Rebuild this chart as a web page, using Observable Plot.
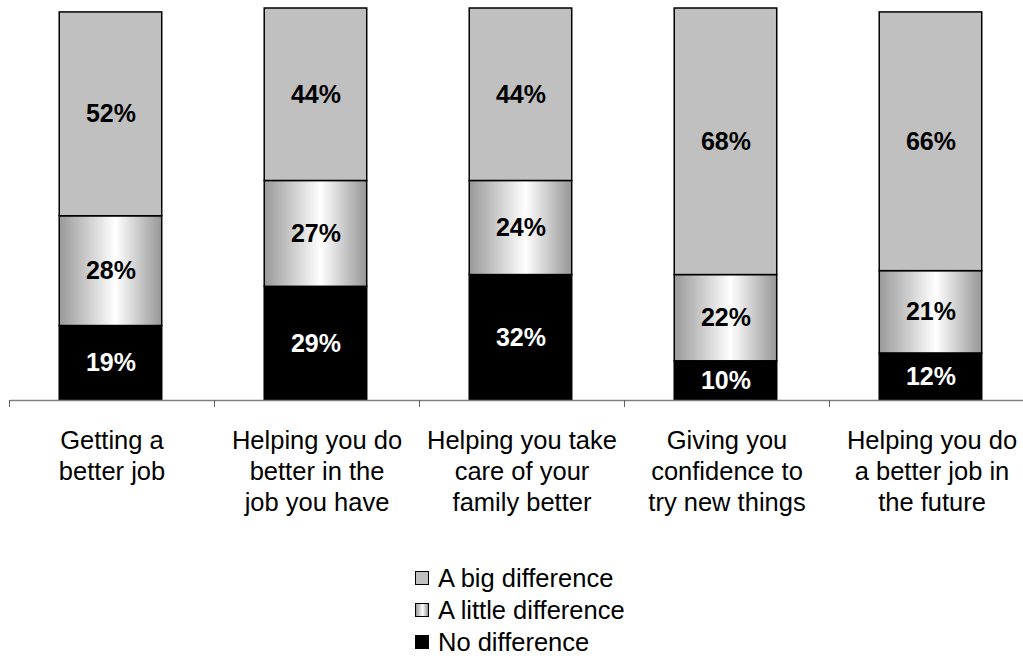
<!DOCTYPE html>
<html>
<head>
<meta charset="utf-8">
<script src="https://cdn.jsdelivr.net/npm/d3@7"></script>
<script src="https://cdn.jsdelivr.net/npm/@observablehq/plot@0.6"></script>
<style>
  body { margin: 0; background: #fff; font-family: "Liberation Sans", Arial, sans-serif; }
  #legend { margin-left: 415px; margin-top: 22px; font-size: 25.5px; color: #000; }
  .row { height: 32px; line-height: 32px; display: flex; align-items: center; }
  .sw { width: 12px; height: 12px; border: 1px solid #000; margin-right: 9px; box-sizing: content-box; }
</style>
</head>
<body>
<div id="chart"></div>
<div id="legend"></div>
<script>
const categories = [
  "Getting a\nbetter job",
  "Helping you do\nbetter in the\njob you have",
  "Helping you take\ncare of your\nfamily better",
  "Giving you\nconfidence to\ntry new things",
  "Helping you do\na better job in\nthe future"
];
const series = ["No difference", "A little difference", "A big difference"];
const noDifference = [19, 29, 32, 10, 12];
const littleDifference = [28, 27, 24, 22, 21];
const bigDifference = [52, 44, 44, 68, 66];
const values = [noDifference, littleDifference, bigDifference];
const fills = ["#000000", "url(#midgrad)", "#c0c0c0"];
const textFills = ["#ffffff", "#000000", "#000000"];
const legendOrder = [2, 1, 0];

const rows = [];
categories.forEach((c, i) => {
  let base = 0;
  series.forEach((s, k) => {
    const v = values[k][i];
    rows.push({i, category: c, series: s, k, value: v, y1: base, y2: base + v});
    base += v;
  });
});

const chart = Plot.plot({
  width: 1023,
  height: 540,
  marginTop: 8,
  marginBottom: 140,
  marginLeft: 10,
  marginRight: 0,
  style: {fontFamily: "'Liberation Sans', Arial, sans-serif", background: "#fff", overflow: "visible"},
  x: {domain: [0, 5], range: [9, 1034]},
  y: {domain: [0, 100], range: [400, 8]},
  marks: [
    Plot.rect(rows, {
      x1: d => d.i + 0.245,
      x2: d => d.i + 0.745,
      y1: "y1",
      y2: "y2",
      fill: d => fills[d.k],
      stroke: "#000",
      strokeWidth: 1.5
    }),
    Plot.text(rows, {
      x: d => d.i + 0.495,
      y: d => (d.y1 + d.y2) / 2,
      text: d => d.value + "%",
      fill: d => textFills[d.k],
      fontSize: 25,
      fontWeight: "bold"
    }),
    Plot.ruleY([0], {stroke: "#808080", strokeWidth: 1.5}),
    Plot.axisX({ticks: d3.range(0, 6), tickFormat: () => "", tickSize: 7, stroke: "#606060"}),
    Plot.axisX({
      ticks: categories.map((c, i) => i + 0.5),
      tickFormat: t => categories[Math.round(t - 0.5)],
      tickSize: 0,
      tickPadding: 26,
      fontSize: 25.5,
      lineHeight: 1.22,
      fill: "#000"
    }),
    Plot.axisY({ticks: [], tickSize: 0, label: null})
  ]
});

const svgns = "http://www.w3.org/2000/svg";
function addGradient(svg) {
  const defs = document.createElementNS(svgns, "defs");
  const g = document.createElementNS(svgns, "linearGradient");
  g.setAttribute("id", "midgrad");
  g.setAttribute("x1", "0"); g.setAttribute("x2", "1");
  g.setAttribute("y1", "0"); g.setAttribute("y2", "0");
  [["0%", "#999999"], ["55%", "#ffffff"], ["100%", "#969696"]].forEach(([o, c]) => {
    const s = document.createElementNS(svgns, "stop");
    s.setAttribute("offset", o); s.setAttribute("stop-color", c);
    g.appendChild(s);
  });
  defs.appendChild(g);
  svg.insertBefore(defs, svg.firstChild);
}
addGradient(chart);
document.getElementById("chart").appendChild(chart);

const legend = document.getElementById("legend");
legendOrder.forEach(k => {
  const row = document.createElement("div");
  row.className = "row";
  const sw = document.createElement("div");
  sw.className = "sw";
  sw.style.background = k === 1 ? "linear-gradient(to right, #999 0%, #fff 55%, #969696 100%)" : fills[k];
  const label = document.createElement("span");
  label.textContent = series[k];
  row.appendChild(sw);
  row.appendChild(label);
  legend.appendChild(row);
});
</script>
</body>
</html>
